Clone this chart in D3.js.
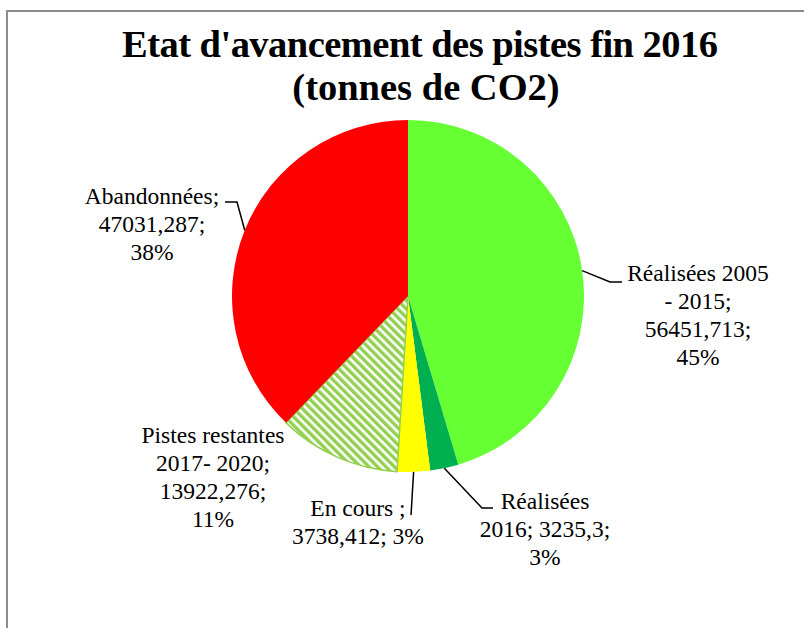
<!DOCTYPE html>
<html>
<head>
<meta charset="utf-8">
<script src="https://cdn.jsdelivr.net/npm/d3@7"></script>
</head>
<body style="margin:0">
<svg id="chart" width="804" height="628" font-family="Liberation Serif"></svg>
<script>
// Etat d'avancement des pistes fin 2016, slices clockwise from 12 o'clock (tonnes de CO2)
const categories = ["Réalisées 2005 - 2015", "Réalisées 2016", "En cours ", "Pistes restantes 2017- 2020", "Abandonnées"];
const values = [56451.713, 3235.3, 3738.412, 13922.276, 47031.287];
const valueLabels = ["56451,713", "3235,3", "3738,412", "13922,276", "47031,287"];
const titleLines = ["Etat d'avancement des pistes fin 2016", "(tonnes de CO2)"];

const colors = ["#66ff33", "#00b050", "#ffff00", "url(#hatch)", "#ff0000"];

// label placement (block centre x, first baseline y, wrap width) and leader bends
const labelBox = [
    {x: 698, y: 281, w: 150},
    {x: 545, y: 509, w: 135},
    {x: 358, y: 516, w: 135},
    {x: 213, y: 443, w: 150},
    {x: 152, y: 204, w: 145}
];
const leaders = [
    [[610, 282], [622, 282]],
    [[482, 508], [493, 508]],
    [[411, 515]],
    null,
    [[237, 202], [225, 202]]
];

const svg = d3.select("#chart");
const W = 804, H = 628;
const cx = 408, cy = 296, r = 176;

// chart frame, only its top and left edges fall inside the picture
svg.append("rect")
    .attr("x", 7).attr("y", 11)
    .attr("width", W + 20).attr("height", H + 20)
    .attr("fill", "none")
    .attr("stroke", "#8c8c8c")
    .attr("stroke-width", 2);

const pat = svg.append("defs").append("pattern")
    .attr("id", "hatch")
    .attr("patternUnits", "userSpaceOnUse")
    .attr("width", 6).attr("height", 6)
    .attr("patternTransform", "rotate(-45)");
pat.append("rect").attr("width", 6).attr("height", 6).attr("fill", "#fff");
pat.append("rect").attr("width", 3.4).attr("height", 6).attr("fill", "#92d050");

// title (Excel draws it a little tighter than the browser, so squeeze line 1)
svg.selectAll("text.title")
    .data(titleLines)
    .join("text")
    .attr("class", "title")
    .attr("x", (d, i) => i === 0 ? 420 : 426)
    .attr("y", (d, i) => 57 + i * 43)
    .attr("text-anchor", "middle")
    .attr("font-family", "Liberation Serif")
    .attr("font-weight", "bold")
    .attr("font-size", 38.5)
    .attr("textLength", (d, i) => i === 0 ? 596 : null)
    .attr("lengthAdjust", "spacing")
    .text(d => d);

// pie
const pie = d3.pie().sort(null).value(d => d);
const arcs = pie(values);
const arc = d3.arc().innerRadius(0).outerRadius(r);

svg.append("g")
    .attr("transform", `translate(${cx},${cy})`)
    .selectAll("path")
    .data(arcs)
    .join("path")
    .attr("d", arc)
    .attr("fill", (d, i) => colors[i])
    .attr("stroke", (d, i) => i === 3 ? "#92d050" : "none")
    .attr("stroke-width", 1.5);

// leader lines from the slice edge
const edge = d3.arc().innerRadius(r).outerRadius(r);
arcs.forEach((d, i) => {
    if (!leaders[i]) return;
    const c = edge.centroid(d);
    svg.append("path")
        .attr("d", d3.line()([[cx + c[0], cy + c[1]], ...leaders[i]]))
        .attr("fill", "none")
        .attr("stroke", "#000")
        .attr("stroke-width", 1.5);
});

// data labels "name; value; pct", word-wrapped to the label width
const total = d3.sum(values);
const pct = v => Math.round(v / total * 100) + "%";

arcs.forEach((d, i) => {
    const box = labelBox[i];
    const words = (categories[i] + "; " + valueLabels[i] + "; " + pct(values[i])).split(" ");
    const t = svg.append("text")
        .attr("text-anchor", "middle")
        .attr("font-family", "Liberation Serif")
        .attr("font-size", 23.5)
        .attr("fill", "#000");
    const probe = t.append("tspan");
    const lines = [];
    let cur = "";
    words.forEach(wd => {
        const test = cur === "" ? wd : cur + " " + wd;
        probe.text(test);
        if (cur !== "" && probe.node().getComputedTextLength() > box.w) {
            lines.push(cur);
            cur = wd;
        } else {
            cur = test;
        }
    });
    lines.push(cur);
    probe.remove();
    t.selectAll("tspan")
        .data(lines)
        .join("tspan")
        .attr("x", box.x)
        .attr("y", (l, k) => box.y + k * 28)
        .text(l => l);
});
</script>
</body>
</html>
